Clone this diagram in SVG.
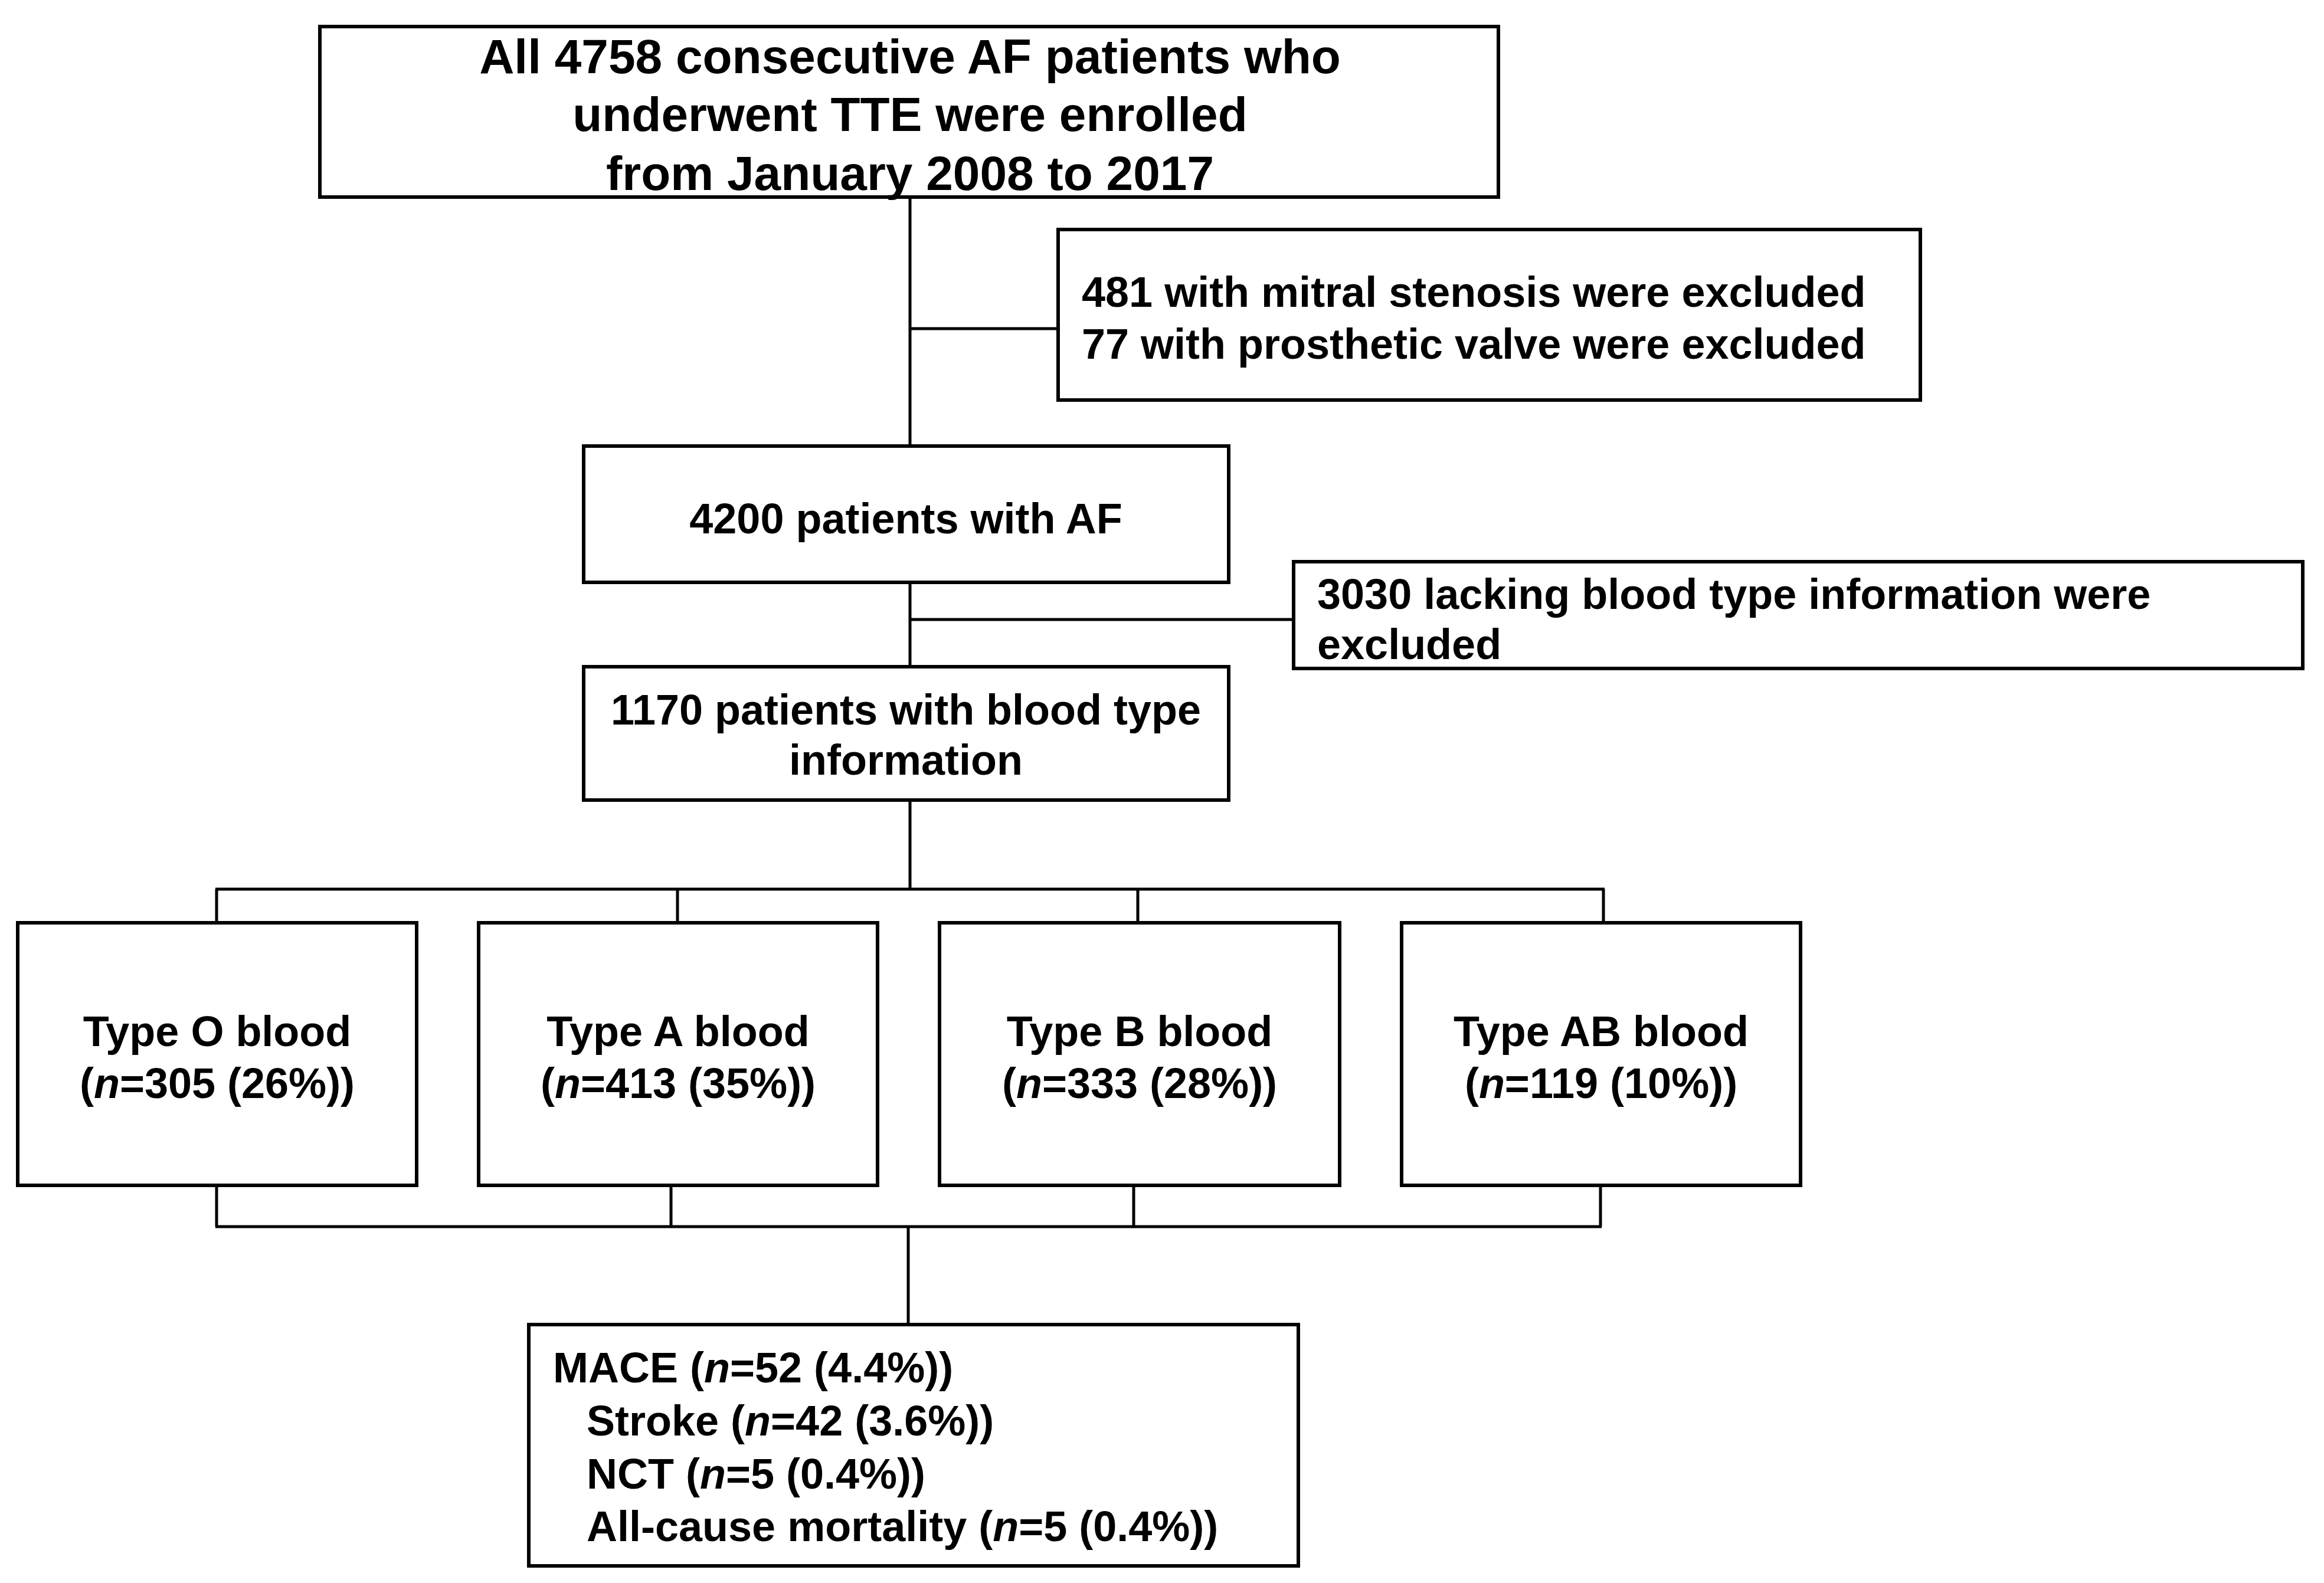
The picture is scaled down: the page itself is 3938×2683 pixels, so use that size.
<svg xmlns="http://www.w3.org/2000/svg" width="3938" height="2683" viewBox="0 0 3938 2683">
<style>
rect{fill:#fff;stroke:#000;stroke-width:6}
line{stroke:#000;stroke-width:5}
text{font-family:"Liberation Sans",Arial,sans-serif;font-weight:bold;font-size:72px;fill:#000}
.c{text-anchor:middle}
.t{font-size:82px}
</style>
<rect width="3938" height="2683" style="stroke:none"/>
<g id="connectors">
<line x1="1542" y1="334" x2="1542" y2="756"/>
<line x1="1542" y1="557" x2="1793" y2="557"/>
<line x1="1542" y1="987" x2="1542" y2="1130"/>
<line x1="1542" y1="1050" x2="2192" y2="1050"/>
<line x1="1542" y1="1356" x2="1542" y2="1507"/>
<line x1="365" y1="1507" x2="2719" y2="1507"/>
<line x1="367" y1="1507" x2="367" y2="1564"/>
<line x1="1148" y1="1507" x2="1148" y2="1564"/>
<line x1="1928" y1="1507" x2="1928" y2="1564"/>
<line x1="2717" y1="1507" x2="2717" y2="1564"/>
<line x1="367" y1="2009" x2="367" y2="2079"/>
<line x1="1137" y1="2009" x2="1137" y2="2079"/>
<line x1="1921" y1="2009" x2="1921" y2="2079"/>
<line x1="2712" y1="2009" x2="2712" y2="2079"/>
<line x1="365" y1="2079" x2="2714" y2="2079"/>
<line x1="1539" y1="2079" x2="1539" y2="2245"/>
</g>
<g id="n1"><rect x="542" y="45" width="1997" height="289"/>
<text class="c t" x="1542" y="124">All 4758 consecutive AF patients who</text>
<text class="c t" x="1542" y="222">underwent TTE were enrolled</text>
<text class="c t" x="1542" y="322">from January 2008 to 2017</text></g>
<g id="ex1"><rect x="1793" y="389" width="1461" height="289"/>
<text x="1833" y="520">481 with mitral stenosis were excluded</text>
<text x="1833" y="608">77 with prosthetic valve were excluded</text></g>
<g id="n2"><rect x="989" y="756" width="1093" height="231"/>
<text class="c" x="1535" y="904">4200 patients with AF</text></g>
<g id="ex2"><rect x="2192" y="952" width="1710" height="181"/>
<text x="2232" y="1032">3030 lacking blood type information were</text>
<text x="2232" y="1117">excluded</text></g>
<g id="n3"><rect x="989" y="1130" width="1093" height="226"/>
<text class="c" x="1535" y="1228">1170 patients with blood type</text>
<text class="c" x="1535" y="1313">information</text></g>
<g id="o"><rect x="30" y="1564" width="676" height="445"/>
<text class="c" x="368" y="1773">Type O blood</text>
<text class="c" x="368" y="1861">(<tspan font-style="italic">n</tspan>=305 (26%))</text></g>
<g id="a"><rect x="811" y="1564" width="676" height="445"/>
<text class="c" x="1149" y="1773">Type A blood</text>
<text class="c" x="1149" y="1861">(<tspan font-style="italic">n</tspan>=413 (35%))</text></g>
<g id="b"><rect x="1592" y="1564" width="678" height="445"/>
<text class="c" x="1931" y="1773">Type B blood</text>
<text class="c" x="1931" y="1861">(<tspan font-style="italic">n</tspan>=333 (28%))</text></g>
<g id="ab"><rect x="2375" y="1564" width="676" height="445"/>
<text class="c" x="2713" y="1773">Type AB blood</text>
<text class="c" x="2713" y="1861">(<tspan font-style="italic">n</tspan>=119 (10%))</text></g>
<g id="out"><rect x="896" y="2245" width="1304" height="409"/>
<text x="937" y="2343">MACE (<tspan font-style="italic">n</tspan>=52 (4.4%))</text>
<text x="994" y="2433">Stroke (<tspan font-style="italic">n</tspan>=42 (3.6%))</text>
<text x="994" y="2523">NCT (<tspan font-style="italic">n</tspan>=5 (0.4%))</text>
<text x="994" y="2612">All-cause mortality (<tspan font-style="italic">n</tspan>=5 (0.4%))</text></g>
</svg>
